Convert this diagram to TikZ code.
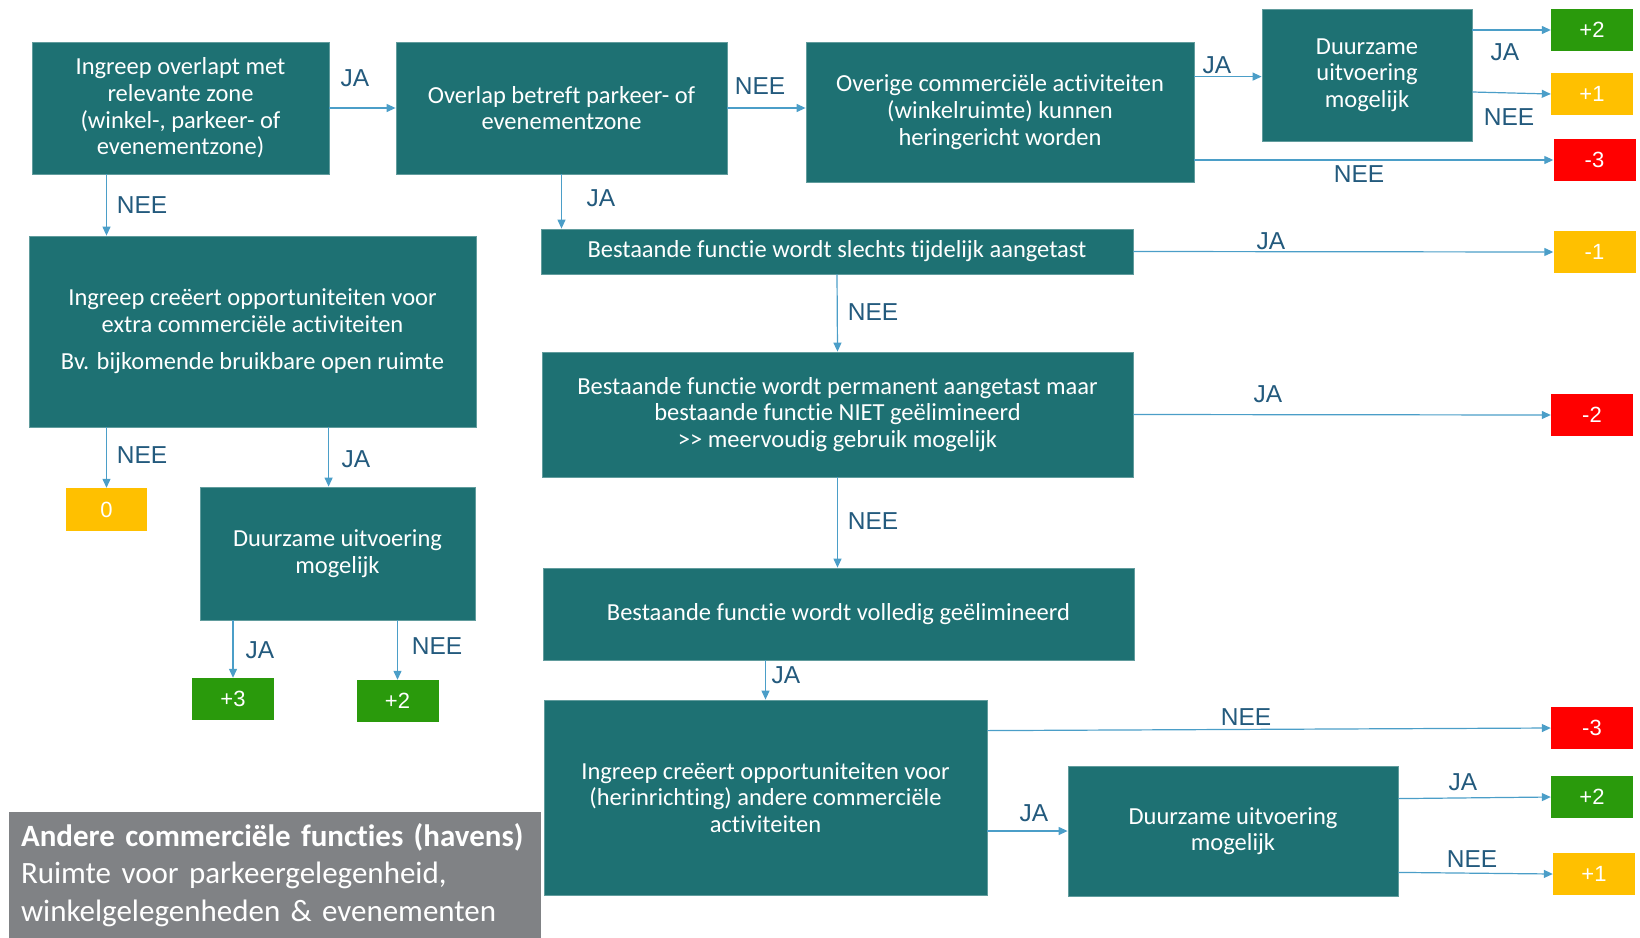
\documentclass[tikz,border=0pt]{standalone}
\usepackage{fontspec}
\setmainfont{Carlito}[Ligatures=NoCommon]
\newfontfamily\arialf{Liberation Sans}
\usetikzlibrary{arrows.meta,calc}
\definecolor{tealbox}{RGB}{30,113,115}
\definecolor{arrowc}{RGB}{75,158,200}
\definecolor{labc}{RGB}{35,90,125}
\definecolor{scgreen}{RGB}{42,154,12}
\definecolor{scyellow}{RGB}{255,192,0}
\definecolor{scred}{RGB}{255,0,0}
\definecolor{titlegray}{RGB}{128,130,133}
\begin{document}
\begin{tikzpicture}[x=1pt,y=-1pt,
  box/.style={fill=tealbox, draw=tealbox!70!white, line width=0.8pt, text=white, align=center, inner sep=0pt, font=\fontsize{24.5}{26.6}\selectfont},
  score/.style={text=white, font=\arialf\fontsize{22}{26}\selectfont, minimum width=82pt, minimum height=42pt, inner sep=0pt},
  green/.style={score, fill=scgreen},
  yellow/.style={score, fill=scyellow},
  red/.style={score, fill=scred},
  arr/.style={-{Triangle[length=9pt,width=8pt]}, draw=arrowc, line width=1.2pt},
  lab/.style={text=labc, font=\arialf\fontsize{24.5}{26}\selectfont, inner sep=0pt}]
\useasboundingbox (0,0) rectangle (1640,937);

% boxes
\node[box, minimum width=297pt, minimum height=132pt] (A) at (180.5,108) {Ingreep overlapt met\\relevante zone\\(winkel-, parkeer- of\\evenementzone)};
\node[box, minimum width=331pt, minimum height=132pt] (B) at (561.5,108) {Overlap betreft parkeer- of\\evenementzone};
\node[box, minimum width=388pt, minimum height=140pt] (C) at (1000,112) {Overige commerciële activiteiten\\(winkelruimte) kunnen\\heringericht worden};
\node[box, minimum width=210pt, minimum height=132pt] (D) at (1367,75) {Duurzame\\uitvoering\\mogelijk};
\node[box, minimum width=447pt, minimum height=191pt] (E) at (252.5,331.5) {Ingreep creëert opportuniteiten voor\\extra commerciële activiteiten\\[11pt]Bv. bijkomende bruikbare open ruimte};
\node[box, minimum width=592pt, minimum height=45pt] (F) at (837,251.5) {Bestaande functie wordt slechts tijdelijk aangetast};
\node[box, minimum width=591pt, minimum height=125pt] (G) at (837.5,414.5) {Bestaande functie wordt permanent aangetast maar\\bestaande functie NIET geëlimineerd\\{>}{>} meervoudig gebruik mogelijk};
\node[box, minimum width=591pt, minimum height=92pt] (H) at (838.5,614) {Bestaande functie wordt volledig geëlimineerd};
\node[box, minimum width=443pt, minimum height=195pt] (I) at (765.5,797.5) {Ingreep creëert opportuniteiten voor\\(herinrichting) andere commerciële\\activiteiten};
\node[box, minimum width=330pt, minimum height=130pt] (J) at (1233,831) {Duurzame uitvoering\\mogelijk};
\node[box, minimum width=275pt, minimum height=133pt] (K) at (337.5,553.5) {Duurzame uitvoering\\mogelijk};

% scores
\node[green] (s1) at (1592,30) {+2};
\node[yellow] (s2) at (1592,94) {+1};
\node[red] (s3) at (1594.5,160) {-3};
\node[yellow] (s4) at (1594.5,252) {-1};
\node[red] (s5) at (1592,415) {-2};
\node[red] (s6) at (1592,728) {-3};
\node[green] (s7) at (1592,797) {+2};
\node[yellow] (s8) at (1594,874) {+1};
\node[yellow, minimum width=81pt, minimum height=43pt] (s0) at (106.5,509.5) {0};
\node[green] (s9) at (233,699) {+3};
\node[green] (s10) at (397.5,701) {+2};

% title
\node[fill=titlegray, minimum width=532pt, minimum height=126pt, text width=508pt, align=left, inner sep=0pt, text=white, font=\fontsize{31}{37.5}\selectfont] (T) at (275,875) {\textbf{Andere commerciële functies (havens)}\\Ruimte voor parkeergelegenheid,\\winkelgelegenheden \& evenementen};

% helper coordinates on box edges
\coordinate (cD) at ($(C.north east)+(0,35)$);
\coordinate (cK) at ($(E.south west)+(300,0)$);

% connectors
\draw[arr] (A.east) -- (B.west);
\draw[arr] (B.east) -- (B.east -| C.west);
\draw[arr] (cD) -- (cD -| D.west);
\draw[arr] (s1.west -| D.east) -- (s1.west);
\draw[arr] ($(D.east)+(0,17)$) -- (s2.west);
\draw[arr] (s3.west -| C.east) -- (s3.west);
\draw[arr] (A.south -| s0) -- (E.north -| s0);
\draw[arr] (B.south) -- (B.south |- F.north);
\draw[arr] (F.east) -- (s4.west);
\draw[arr] (F.south) -- (G.north);
\draw[arr] (G.east) -- (s5.west);
\draw[arr] (G.south) -- (G.south |- H.north);
\draw[arr] (I.north |- H.south) -- (I.north);
\draw[arr] ($(I.north east)+(0,31)$) -- (s6.west);
\draw[arr] (J.west -| I.east) -- (J.west);
\draw[arr] ($(J.north east)+(0,33)$) -- (s7.west);
\draw[arr] ($(J.south east)+(0,-24)$) -- (s8.west);
\draw[arr] (E.south -| s0) -- (s0.north);
\draw[arr] (cK) -- (cK |- K.north);
\draw[arr] (s9.north |- K.south) -- (s9.north);
\draw[arr] (s10.north |- K.south) -- (s10.north);

% labels
\node[lab] (l1) at (355,78) {JA};
\node[lab] (l2) at (760,86) {NEE};
\node[lab] (l3) at (1217,65) {JA};
\node[lab] (l4) at (1505,52) {JA};
\node[lab] (l5) at (1509,117) {NEE};
\node[lab] (l6) at (1359,174) {NEE};
\node[lab] (l7) at (142,205) {NEE};
\node[lab] (l8) at (601,198) {JA};
\node[lab] (l9) at (1271,241) {JA};
\node[lab] (l10) at (873,312) {NEE};
\node[lab] (l11) at (1268,394) {JA};
\node[lab] (l12) at (873,521) {NEE};
\node[lab] (l13) at (786,675) {JA};
\node[lab] (l14) at (1246,717) {NEE};
\node[lab] (l15) at (1034,813) {JA};
\node[lab] (l16) at (1463,782) {JA};
\node[lab] (l17) at (1472,859) {NEE};
\node[lab] (l18) at (142,455) {NEE};
\node[lab] (l19) at (356,459) {JA};
\node[lab] (l20) at (260,650) {JA};
\node[lab] (l21) at (437,646) {NEE};
\end{tikzpicture}
\end{document}
